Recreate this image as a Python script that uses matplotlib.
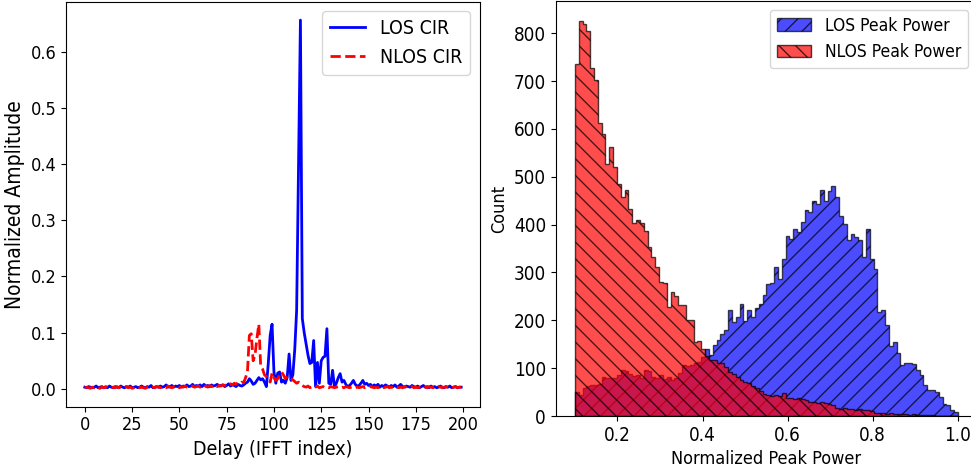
import numpy as np
import matplotlib
matplotlib.use("Agg")
import matplotlib.pyplot as plt
from matplotlib import font_manager
from matplotlib.ticker import MultipleLocator

# Use the condensed DejaVu face if present (reference text is horizontally narrow)
_cond = [f for f in font_manager.fontManager.ttflist
         if f.fname.endswith("DejaVuSansCondensed.ttf")]
if _cond:
    plt.rcParams["font.family"] = [_cond[0].name, "DejaVu Sans"]
    plt.rcParams["font.stretch"] = _cond[0].stretch

# ---------------- Left panel data: CIR amplitude vs delay index ----------------
delay_idx = list(range(200))

los_cir = [
    0.003,0.002,0.004,0.003,0.002,0.003,0.005,0.002,0.003,0.004,
    0.002,0.003,0.002,0.005,0.003,0.002,0.004,0.003,0.002,0.005,
    0.003,0.002,0.004,0.003,0.005,0.002,0.003,0.004,0.002,0.003,
    0.005,0.003,0.002,0.004,0.003,0.006,0.002,0.003,0.004,0.003,
    0.005,0.003,0.004,0.007,0.003,0.004,0.006,0.003,0.005,0.004,
    0.006,0.003,0.005,0.004,0.007,0.004,0.005,0.008,0.004,0.006,
    0.005,0.007,0.004,0.008,0.005,0.006,0.004,0.007,0.005,0.006,
    0.008,0.005,0.006,0.007,0.004,0.006,0.009,0.005,0.007,0.006,
    0.004,0.008,0.006,0.005,0.007,0.010,0.012,0.018,0.014,0.008,
    0.010,0.015,0.020,0.016,0.018,0.012,0.004,0.045,0.095,0.115,
    0.030,0.010,0.028,0.030,0.012,0.015,0.010,0.020,0.062,0.015,
    0.025,0.070,0.140,0.400,0.656,0.125,0.100,0.080,0.060,0.045,
    0.047,0.086,0.004,0.047,0.010,0.050,0.056,0.058,0.107,0.010,
    0.008,0.033,0.004,0.010,0.020,0.027,0.012,0.015,0.008,0.004,
    0.006,0.010,0.015,0.008,0.005,0.006,0.010,0.015,0.008,0.010,
    0.006,0.008,0.004,0.007,0.005,0.008,0.003,0.006,0.004,0.007,
    0.005,0.003,0.006,0.004,0.007,0.003,0.005,0.008,0.004,0.003,
    0.005,0.004,0.003,0.006,0.004,0.003,0.005,0.002,0.004,0.006,
    0.003,0.004,0.002,0.005,0.003,0.004,0.002,0.003,0.005,0.003,
    0.002,0.004,0.003,0.005,0.002,0.003,0.004,0.002,0.003,0.003,
]

nlos_cir = [
    0.002,0.003,0.002,0.001,0.003,0.002,0.004,0.002,0.001,0.003,
    0.002,0.004,0.003,0.002,0.001,0.003,0.002,0.004,0.002,0.003,
    0.001,0.002,0.004,0.002,0.003,0.001,0.002,0.003,0.004,0.002,
    0.003,0.002,0.001,0.003,0.004,0.002,0.003,0.002,0.004,0.003,
    0.002,0.004,0.003,0.002,0.005,0.003,0.002,0.004,0.003,0.005,
    0.002,0.004,0.003,0.005,0.003,0.002,0.004,0.005,0.003,0.004,
    0.005,0.003,0.006,0.004,0.005,0.003,0.006,0.004,0.005,0.007,
    0.004,0.006,0.005,0.007,0.006,0.008,0.006,0.009,0.007,0.010,
    0.008,0.011,0.009,0.012,0.011,0.020,0.030,0.095,0.098,0.050,
    0.060,0.090,0.115,0.040,0.035,0.025,0.022,0.018,0.012,0.028,
    0.020,0.015,0.018,0.025,0.030,0.025,0.018,0.022,0.020,0.018,
    0.016,0.013,0.010,0.012,0.008,0.006,0.004,0.003,0.005,0.002,
    0.004,0.002,0.003,0.005,0.002,0.003,0.004,0.002,0.003,0.002,
    0.004,0.003,0.002,0.003,0.004,0.002,0.003,0.002,0.004,0.003,
    0.002,0.003,0.004,0.002,0.003,0.002,0.003,0.004,0.002,0.003,
    0.002,0.004,0.003,0.002,0.003,0.002,0.004,0.003,0.002,0.003,
    0.004,0.002,0.003,0.002,0.004,0.003,0.002,0.003,0.002,0.004,
    0.003,0.002,0.003,0.004,0.002,0.003,0.002,0.003,0.004,0.002,
    0.003,0.002,0.004,0.003,0.002,0.003,0.002,0.004,0.003,0.002,
    0.003,0.004,0.002,0.003,0.002,0.003,0.004,0.002,0.003,0.003,
]

# ---------------- Right panel data: histogram counts (100 bins, 0.1..1.0) ----------------
bin_lo, bin_hi, n_bins = 0.1, 1.0, 100

los_counts = [
    50, 44, 58, 62, 65, 64, 66, 82, 80, 79,
    80, 86, 96, 93, 88, 84, 86, 80, 96, 94,
    82, 80, 86, 78, 82, 76, 80, 90, 106, 104,
    106, 110, 113, 123, 141, 127, 148, 158, 172, 180,
    221, 196, 207, 235, 198, 222, 207, 226, 235, 252,
    276, 278, 311, 287, 329, 377, 370, 390, 384, 405,
    431, 426, 449, 443, 472, 450, 470, 481, 457, 419,
    401, 367, 381, 374, 367, 332, 391, 329, 308, 217,
    221, 190, 146, 155, 131, 106, 110, 110, 108, 96,
    85, 65, 54, 54, 51, 40, 26, 23, 12, 9,
]

nlos_counts = [
    736, 826, 820, 805, 727, 702, 613, 589, 527, 562,
    521, 485, 457, 472, 433, 403, 410, 403, 387, 354,
    332, 311, 280, 277, 228, 259, 250, 233, 233, 201,
    201, 155, 157, 141, 125, 117, 117, 110, 110, 103,
    92, 88, 82, 75, 72, 68, 62, 58, 52, 45,
    43, 42, 44, 41, 48, 38, 37, 36, 37, 35,
    33, 30, 29, 28, 30, 27, 26, 24, 16, 15,
    16, 14, 15, 13, 14, 12, 12, 11, 7, 6,
    6, 5, 6, 4, 5, 4, 5, 3, 4, 3,
    3, 2, 3, 2, 1, 1, 0, 0, 0, 0,
]

# ---------------- Figure ----------------
fig = plt.figure(figsize=(9.71, 4.75), dpi=100)

ax1 = fig.add_axes([66/971, 1-406.7/475, (480-66)/971, (406.7-1.7)/475])
ax1.plot(delay_idx, los_cir, color="blue", lw=2, label="LOS CIR")
ax1.plot(delay_idx, nlos_cir, color="red", lw=2, ls="--", label="NLOS CIR")
ax1.xaxis.set_major_locator(MultipleLocator(25))
ax1.set_xlabel("Delay (IFFT index)", fontsize=14)
ax1.set_ylabel("Normalized Amplitude", fontsize=15)
ax1.tick_params(labelsize=13)
ax1.legend(loc="upper right", fontsize=14, handlelength=1.8)

edges = np.linspace(bin_lo, bin_hi, n_bins + 1)
centers = (edges[:-1] + edges[1:]) / 2

ax2 = fig.add_axes([555.7/971, 1-416/475, (977-555.7)/971, 415/475])
ax2.hist(centers, bins=edges, weights=los_counts, histtype="stepfilled",
         color="blue", edgecolor="black", alpha=0.7, hatch="//",
         label="LOS Peak Power")
ax2.hist(centers, bins=edges, weights=nlos_counts, histtype="stepfilled",
         color="red", edgecolor="black", alpha=0.7, hatch="\\\\",
         label="NLOS Peak Power")
ax2.set_xlabel("Normalized Peak Power", fontsize=13)
ax2.set_ylabel("Count", fontsize=13)
ax2.tick_params(labelsize=13.5)
ax2.legend(loc="upper right", fontsize=12.5)

fig.savefig("out.png", dpi=100)
